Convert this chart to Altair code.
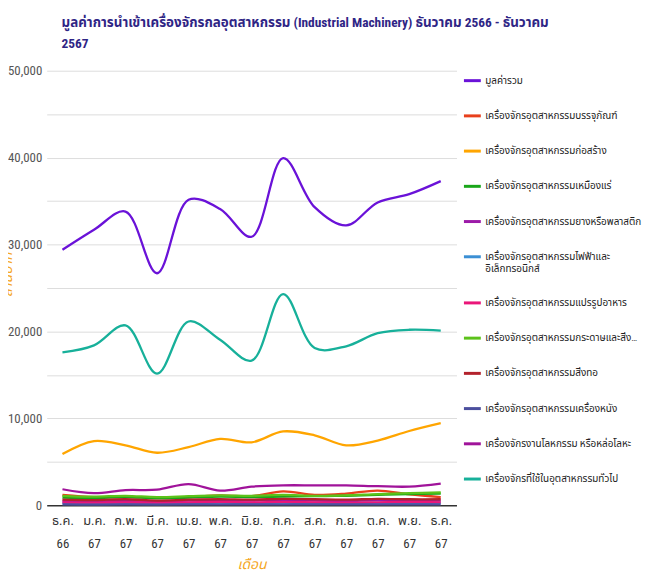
import altair as alt
import pandas as pd

months = ["ธ.ค. 66", "ม.ค. 67", "ก.พ. 67", "มี.ค. 67", "เม.ย. 67", "พ.ค. 67", "มิ.ย. 67",
          "ก.ค. 67", "ส.ค. 67", "ก.ย. 67", "ต.ค. 67", "พ.ย. 67", "ธ.ค. 67"]

series_names = [
    "มูลค่ารวม",
    "เครื่องจักรอุตสาหกรรมบรรจุภัณฑ์",
    "เครื่องจักรอุตสาหกรรมก่อสร้าง",
    "เครื่องจักรอุตสาหกรรมเหมืองแร่",
    "เครื่องจักรอุตสาหกรรมยางหรือพลาสติก",
    "เครื่องจักรอุตสาหกรรมไฟฟ้าและอิเล็กทรอนิกส์",
    "เครื่องจักรอุตสาหกรรมแปรรูปอาหาร",
    "เครื่องจักรอุตสาหกรรมกระดาษและสิ่งพิมพ์",
    "เครื่องจักรอุตสาหกรรมสิ่งทอ",
    "เครื่องจักรอุตสาหกรรมเครื่องหนัง",
    "เครื่องจักรงานโลหกรรม หรือหล่อโลหะ",
    "เครื่องจักรที่ใช้ในอุตสาหกรรมทั่วไป",
]

series_colors = ["#6a12d8", "#e8401c", "#ffa500", "#19a619", "#9c1aa8", "#3b8fd4",
                 "#ea1679", "#5cc21a", "#b3222c", "#4b4f9e", "#a0139a", "#17b09a"]

total = [29400, 31700, 33800, 26700, 35150, 34100, 30900, 39950, 34300, 32200, 34850, 35800, 37300]
packaging = [1200, 950, 1000, 850, 950, 1150, 1050, 1600, 1200, 1350, 1700, 1250, 950]
construction = [5900, 7400, 6900, 6050, 6700, 7650, 7250, 8500, 8050, 6900, 7450, 8550, 9450]
mining = [900, 850, 950, 800, 900, 1000, 950, 1000, 1050, 1100, 1200, 1300, 1350]
rubber_plastic = [500, 450, 500, 450, 550, 500, 550, 600, 550, 500, 600, 550, 550]
electrical = [250, 200, 250, 200, 250, 300, 250, 300, 250, 250, 300, 250, 300]
food = [350, 300, 350, 300, 350, 400, 350, 400, 350, 300, 350, 400, 350]
paper_printing = [1100, 1000, 1100, 950, 1050, 1150, 1100, 1200, 1100, 1150, 1300, 1400, 1500]
textile = [650, 600, 700, 550, 650, 700, 650, 750, 700, 650, 750, 700, 700]
leather = [100, 80, 100, 90, 100, 120, 100, 110, 100, 100, 110, 100, 100]
metal = [1850, 1400, 1750, 1800, 2450, 1700, 2150, 2300, 2300, 2300, 2200, 2150, 2500]
general = [17600, 18400, 20700, 15150, 21150, 19050, 16650, 24300, 18100, 18300, 19800, 20200, 20100]

all_values = [total, packaging, construction, mining, rubber_plastic, electrical, food,
              paper_printing, textile, leather, metal, general]

rows = []
for name, vals in zip(series_names, all_values):
    for m, v in zip(months, vals):
        rows.append({"เดือน": m, "ชุด": name, "ค่า": v})
df = pd.DataFrame(rows)

FONT = "'Liberation Sans Narrow', 'Roboto Condensed', Tahoma, 'Noto Sans Thai', sans-serif"
ORANGE = "#f5a623"

label_expr = (
    "datum.label == 'เครื่องจักรอุตสาหกรรมไฟฟ้าและอิเล็กทรอนิกส์' ? "
    "['เครื่องจักรอุตสาหกรรมไฟฟ้าและ', 'อิเล็กทรอนิกส์'] : datum.label"
)

chart = alt.Chart(df).mark_line(interpolate="catmull-rom", strokeWidth=2.3).encode(
    x=alt.X("เดือน:N", sort=months, scale=alt.Scale(type="point", padding=0.5),
            axis=alt.Axis(title="เดือน", labelExpr="split(datum.label, ' ')",
                          labelAngle=0, ticks=False, domain=False, grid=False,
                          labelColor="#333", labelFontSize=13, labelPadding=9,
                          labelLineHeight=24,
                          titleColor=ORANGE, titleFontStyle="italic", titleFontWeight="normal",
                          titleFontSize=14, titlePadding=7)),
    y=alt.Y("ค่า:Q", scale=alt.Scale(domain=[0, 50000], nice=False),
            axis=alt.Axis(title="ล้านบาท", values=list(range(0, 50001, 5000)),
                          labelExpr="datum.value % 10000 === 0 ? format(datum.value, ',') : ''",
                          ticks=False, domain=False, labelColor="#555", labelFontSize=13,
                          labelPadding=5,
                          gridColor={"condition": {"test": "datum.value === 0", "value": "#333"},
                                     "value": "#dddddd"},
                          gridWidth={"condition": {"test": "datum.value === 0", "value": 1.5},
                                     "value": 1},
                          titleColor=ORANGE, titleFontStyle="italic", titleFontWeight="normal",
                          titleFontSize=14, titleX=-39, titleY=205, titleBaseline="middle")),
    color=alt.Color("ชุด:N", sort=series_names,
                    scale=alt.Scale(domain=series_names, range=series_colors),
                    legend=alt.Legend(title=None, orient="right", offset=6,
                                      symbolType="stroke", symbolStrokeWidth=3, symbolSize=289,
                                      labelFontSize=10, labelColor="#222", labelLimit=159,
                                      labelExpr=label_expr, rowPadding=19.5, labelOffset=3)),
).properties(
    width=413,
    height=438,
    padding={"left": 39, "top": 61, "right": 192, "bottom": 69},
    autosize=alt.AutoSizeParams(type="none"),
    title=alt.TitleParams(
        ["มูลค่าการนำเข้าเครื่องจักรกลอุตสาหกรรม (Industrial Machinery) ธันวาคม 2566 - ธันวาคม",
         "2567"],
        anchor="start", frame="group", dx=15, fontSize=13.5, fontWeight="bold", color="#2f2585",
        lineHeight=22, offset=14),
).configure(font=FONT).configure_view(stroke=None)

chart.save("out.html", embed_options={"renderer": "svg", "actions": False})
